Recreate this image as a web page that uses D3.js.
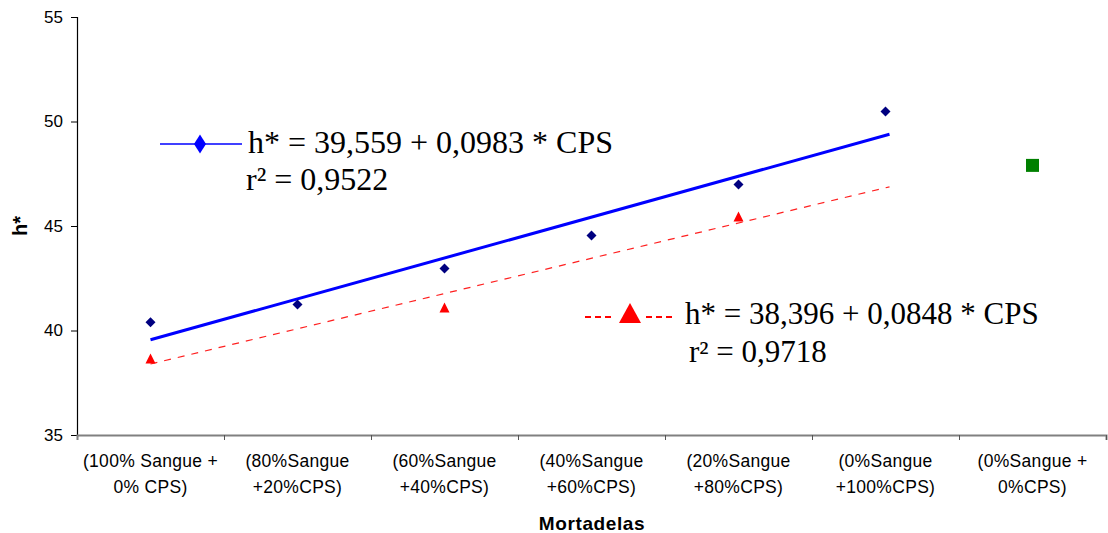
<!DOCTYPE html>
<html>
<head>
<meta charset="utf-8">
<script src="https://cdn.jsdelivr.net/npm/d3@7"></script>
<style>
  body { margin: 0; background: #fff; }
  svg { display: block; }
</style>
</head>
<body>
<div id="chart"></div>
<script>
// categories (two-line tick labels)
const categories = [
  ['(100% Sangue +', '0% CPS)'],
  ['(80%Sangue', '+20%CPS)'],
  ['(60%Sangue', '+40%CPS)'],
  ['(40%Sangue', '+60%CPS)'],
  ['(20%Sangue', '+80%CPS)'],
  ['(0%Sangue', '+100%CPS)'],
  ['(0%Sangue +', '0%CPS)']
];
const cpsLevels = [0, 20, 40, 60, 80, 100, null];
const yTicks = [35, 40, 45, 50, 55];

// series values
const sangueValues = [40.4, 41.25, 42.97, 44.55, 46.99, 50.48, null];
const plasmaValues = [38.66, null, 41.1, null, 45.45, null, null];
const controlValues = [null, null, null, null, null, null, 47.9];

// linear fits [intercept, slope]
const sangueFit = [39.559, 0.0983];
const plasmaFit = [38.396, 0.0848];
const sangueLabel = ['h* = 39,559 + 0,0983 * CPS', 'r² = 0,9522'];
const plasmaLabel = ['h* = 38,396 + 0,0848 * CPS', 'r² = 0,9718'];

const width = 1108;
const height = 533;
const mLeft = 77, mRight = 1106, mTop = 17, mBottom = 435;
const sansFont = 'Liberation Sans, Arial, sans-serif';

const svg = d3.select('#chart').append('svg')
  .attr('width', width)
  .attr('height', height);

const x = d3.scaleBand()
  .domain(d3.range(categories.length))
  .range([mLeft, mRight])
  .padding(0);
const cx = i => x(i) + x.bandwidth() / 2;

const y = d3.scaleLinear()
  .domain([35, 55])
  .range([mBottom, mTop]);

// CPS -> x, through the category centres
const xCps = d3.scaleLinear()
  .domain([0, 100])
  .range([cx(0), cx(5) + 4]);

// y axis
const yAxis = svg.append('g')
  .attr('transform', 'translate(' + mLeft + ',0)')
  .call(d3.axisLeft(y).tickValues(yTicks).tickSize(6).tickPadding(8));
yAxis.select('.domain').attr('stroke', '#000').attr('stroke-width', 1.2);
yAxis.selectAll('.tick line').attr('stroke', '#000');
yAxis.selectAll('.tick text')
  .attr('font-family', sansFont)
  .attr('font-size', '17px')
  .attr('fill', '#000');

// x axis (ticks at band edges)
const xEdges = d3.scaleLinear().domain([0, categories.length]).range([mLeft, mRight]);
const xAxis = svg.append('g')
  .attr('transform', 'translate(0,' + mBottom + ')')
  .call(d3.axisBottom(xEdges).tickValues(d3.range(1, categories.length + 1)).tickSize(5).tickFormat(''));
xAxis.select('.domain').attr('stroke', '#808080').attr('stroke-width', 2);
xAxis.selectAll('.tick line').attr('stroke', '#555');

const xLabels = svg.append('g')
  .attr('font-family', sansFont)
  .attr('font-size', '17.5px')
  .attr('letter-spacing', '0.3px')
  .attr('fill', '#000')
  .attr('text-anchor', 'middle');
categories.forEach((lines, i) => {
  const t = xLabels.append('text').attr('x', cx(i)).attr('y', 467);
  lines.forEach((ln, k) => {
    t.append('tspan').attr('x', cx(i)).attr('dy', k === 0 ? 0 : 26).text(ln);
  });
});

// axis titles
svg.append('text')
  .attr('x', 592)
  .attr('y', 530)
  .attr('text-anchor', 'middle')
  .attr('font-family', sansFont)
  .attr('font-weight', 'bold')
  .attr('font-size', '19px')
  .attr('letter-spacing', '0.6px')
  .text('Mortadelas');

svg.append('text')
  .attr('transform', 'translate(27,' + y(45) + ') rotate(-90)')
  .attr('text-anchor', 'middle')
  .attr('font-family', sansFont)
  .attr('font-weight', 'bold')
  .attr('font-size', '20px')
  .text('h*');

// trend lines
const fitLine = d3.line()
  .x(d => xCps(d[0]))
  .y(d => y(d[1]));
const fitPoints = fit => [0, 100].map(c => [c, fit[0] + fit[1] * c]);

svg.append('path')
  .datum(fitPoints(sangueFit))
  .attr('fill', 'none')
  .attr('stroke', '#0000ff')
  .attr('stroke-width', 3)
  .attr('d', fitLine);

svg.append('path')
  .datum(fitPoints(plasmaFit))
  .attr('fill', 'none')
  .attr('stroke', '#ff2020')
  .attr('stroke-width', 1.2)
  .attr('stroke-dasharray', '7,7')
  .attr('d', fitLine);

// markers
const diamond = (w, h) => 'M0,' + (-h / 2) + 'L' + (w / 2) + ',0L0,' + (h / 2) + 'L' + (-w / 2) + ',0Z';
const triangle = (w, h) => 'M0,' + (-h / 2) + 'L' + (w / 2) + ',' + (h / 2) + 'L' + (-w / 2) + ',' + (h / 2) + 'Z';

svg.append('g').selectAll('path')
  .data(sangueValues.map((v, i) => [i, v]).filter(d => d[1] != null))
  .join('path')
  .attr('transform', d => 'translate(' + cx(d[0]) + ',' + y(d[1]) + ')')
  .attr('d', diamond(10, 10))
  .attr('fill', '#000080');

svg.append('g').selectAll('path')
  .data(plasmaValues.map((v, i) => [i, v]).filter(d => d[1] != null))
  .join('path')
  .attr('transform', d => 'translate(' + cx(d[0]) + ',' + y(d[1]) + ')')
  .attr('d', triangle(10, 10))
  .attr('fill', '#ff0000');

svg.append('g').selectAll('rect')
  .data(controlValues.map((v, i) => [i, v]).filter(d => d[1] != null))
  .join('rect')
  .attr('x', d => cx(d[0]) - 6.5)
  .attr('y', d => y(d[1]) - 6.5)
  .attr('width', 13)
  .attr('height', 13)
  .attr('fill', '#008000');

// equation labels
const eqFont = 'Liberation Serif, Times New Roman, serif';

const leg1 = svg.append('g');
leg1.append('line')
  .attr('x1', 160).attr('x2', 242).attr('y1', 144).attr('y2', 144)
  .attr('stroke', '#0000ff').attr('stroke-width', 1.5);
leg1.append('path')
  .attr('transform', 'translate(200,144)')
  .attr('d', diamond(12, 19))
  .attr('fill', '#0000ff');
leg1.append('text')
  .attr('x', 248).attr('y', 153)
  .attr('font-family', eqFont).attr('font-size', '32px')
  .text(sangueLabel[0]);
leg1.append('text')
  .attr('x', 246).attr('y', 190)
  .attr('font-family', eqFont).attr('font-size', '32px')
  .text(sangueLabel[1]);

const leg2 = svg.append('g');
leg2.append('line')
  .attr('x1', 585).attr('x2', 614).attr('y1', 317).attr('y2', 317)
  .attr('stroke', '#ff0000').attr('stroke-width', 2).attr('stroke-dasharray', '6,4');
leg2.append('line')
  .attr('x1', 646).attr('x2', 676).attr('y1', 317).attr('y2', 317)
  .attr('stroke', '#ff0000').attr('stroke-width', 2).attr('stroke-dasharray', '6,4');
leg2.append('path')
  .attr('transform', 'translate(630,313)')
  .attr('d', triangle(22, 20))
  .attr('fill', '#ff0000');
leg2.append('text')
  .attr('x', 685).attr('y', 324)
  .attr('font-family', eqFont).attr('font-size', '31px')
  .text(plasmaLabel[0]);
leg2.append('text')
  .attr('x', 689).attr('y', 362)
  .attr('font-family', eqFont).attr('font-size', '31px')
  .text(plasmaLabel[1]);
</script>
</body>
</html>
